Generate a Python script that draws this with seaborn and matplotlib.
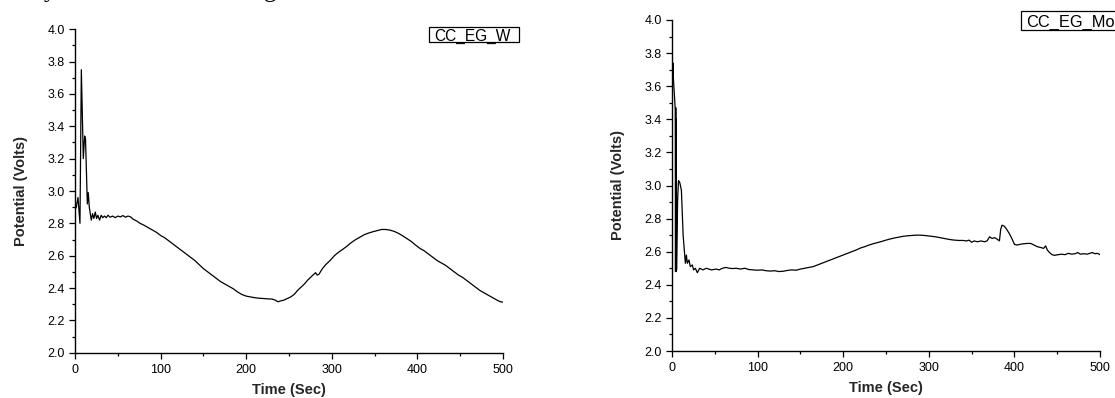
import matplotlib
matplotlib.use("Agg")
import matplotlib.pyplot as plt
from matplotlib.ticker import MultipleLocator
from matplotlib.patches import Rectangle
import seaborn as sns
import pandas as pd

# --- CC_EG_W : potential vs time ---
w_time = [0.5, 1.5, 3.5, 5.8, 7.4, 9.7, 11.3, 12.3, 14.4, 15.5, 16.7, 19.0, 20.5,
          22.0, 23.7, 25.2, 26.8, 28.7, 30.6, 32.5, 34.5, 36.5, 38.5, 41, 44, 47,
          50, 53, 56, 59, 62, 65, 68, 72, 76, 80, 85, 90, 95, 100, 105, 110, 115,
          120, 125, 130, 135, 140, 145, 150, 155, 160, 165, 170, 175, 180, 185,
          190, 195, 200, 205, 210, 215, 220, 225, 230, 234, 237, 240, 244, 248,
          252, 256, 260, 264, 268, 272, 276, 279, 281, 283, 285, 289, 293, 298,
          303, 308, 313, 318, 323, 328, 333, 338, 343, 348, 353, 358, 363, 368,
          373, 378, 383, 388, 393, 398, 403, 408, 413, 418, 423, 428, 433, 438,
          443, 448, 453, 458, 463, 468, 473, 478, 483, 488, 493, 497, 500]
w_volts = [2.89, 2.90, 2.96, 2.80, 3.75, 3.20, 3.34, 3.32, 2.92, 2.99, 2.90, 2.82,
           2.86, 2.83, 2.87, 2.83, 2.85, 2.82, 2.85, 2.835, 2.845, 2.835, 2.85,
           2.838, 2.845, 2.835, 2.845, 2.84, 2.848, 2.838, 2.845, 2.84, 2.825,
           2.815, 2.80, 2.79, 2.775, 2.76, 2.745, 2.725, 2.71, 2.69, 2.67, 2.65,
           2.63, 2.61, 2.59, 2.57, 2.545, 2.52, 2.50, 2.48, 2.46, 2.44, 2.425,
           2.41, 2.395, 2.375, 2.36, 2.35, 2.345, 2.34, 2.337, 2.335, 2.333,
           2.332, 2.325, 2.315, 2.32, 2.325, 2.335, 2.345, 2.36, 2.385, 2.405,
           2.425, 2.45, 2.47, 2.485, 2.495, 2.48, 2.485, 2.52, 2.545, 2.57, 2.60,
           2.622, 2.64, 2.66, 2.682, 2.70, 2.715, 2.73, 2.74, 2.748, 2.755,
           2.762, 2.762, 2.758, 2.75, 2.738, 2.722, 2.705, 2.687, 2.665, 2.645,
           2.63, 2.61, 2.59, 2.57, 2.555, 2.54, 2.52, 2.50, 2.48, 2.465, 2.445,
           2.425, 2.405, 2.385, 2.37, 2.355, 2.34, 2.325, 2.315, 2.313]

# --- CC_EG_Mo : potential vs time ---
mo_time = [0.0, 0.4, 0.8, 1.2, 1.6, 3.8, 4.1, 4.4, 4.7, 5.0, 5.3, 6.6, 7.6, 9.0,
           11.0, 13.0, 15.6, 16.8, 17.9, 19.8, 21.4, 23.7, 25.3, 27.3, 29.6,
           32.3, 36.2, 40, 46, 51.7, 55, 59, 63, 67, 71, 75, 80, 85, 90, 95, 100,
           105, 110, 115, 120, 125, 130, 135, 140, 145, 150, 155, 160, 165, 170,
           175, 180, 185, 190, 195, 200, 205, 210, 215, 220, 225, 230, 235, 240,
           245, 250, 255, 260, 265, 270, 275, 280, 285, 290, 295, 300, 305, 310,
           315, 320, 325, 330, 335, 340, 344, 347, 350, 353, 357, 361, 365, 368,
           371, 374, 377, 380, 382.5, 384, 385.5, 388, 391, 394, 397, 400, 403,
           407, 411, 415, 419, 423, 427, 431, 434, 436.5, 438.5, 441, 444, 447,
           451, 455, 459, 463, 467, 471, 474, 477, 481, 485, 488, 491, 494, 497,
           500]
mo_volts = [3.67, 3.75, 3.66, 3.74, 3.65, 3.46, 2.48, 3.47, 2.48, 3.40, 2.49,
            2.92, 3.03, 3.02, 2.97, 2.70, 2.53, 2.58, 2.53, 2.55, 2.51, 2.52,
            2.49, 2.50, 2.473, 2.50, 2.49, 2.50, 2.49, 2.495, 2.49, 2.50, 2.505,
            2.50, 2.498, 2.50, 2.495, 2.50, 2.492, 2.49, 2.488, 2.49, 2.485,
            2.483, 2.485, 2.48, 2.482, 2.487, 2.49, 2.488, 2.495, 2.50, 2.505,
            2.51, 2.52, 2.53, 2.54, 2.55, 2.56, 2.57, 2.58, 2.59, 2.60, 2.61,
            2.622, 2.63, 2.64, 2.648, 2.655, 2.662, 2.67, 2.677, 2.683, 2.688,
            2.693, 2.696, 2.698, 2.70, 2.70, 2.698, 2.695, 2.692, 2.688, 2.683,
            2.678, 2.673, 2.67, 2.668, 2.668, 2.665, 2.67, 2.657, 2.665, 2.66,
            2.665, 2.66, 2.665, 2.69, 2.68, 2.685, 2.675, 2.665, 2.735, 2.76,
            2.755, 2.735, 2.71, 2.68, 2.645, 2.64, 2.645, 2.648, 2.65, 2.65,
            2.64, 2.63, 2.625, 2.62, 2.635, 2.61, 2.595, 2.582, 2.578, 2.582,
            2.585, 2.582, 2.59, 2.585, 2.588, 2.595, 2.585, 2.588, 2.585, 2.59,
            2.595, 2.588, 2.59, 2.582]

x_ticks = [0, 100, 200, 300, 400, 500]
y_ticks = [2.0, 2.2, 2.4, 2.6, 2.8, 3.0, 3.2, 3.4, 3.6, 3.8, 4.0]
x_label = "Time (Sec)"
y_label = "Potential (Volts)"
series_names = ["CC_EG_W", "CC_EG_Mo"]

sns.set_style("ticks")
plt.rcParams["font.family"] = ["Liberation Sans", "DejaVu Sans"]

W, H = 1115, 398
fig = plt.figure(figsize=(W / 100, H / 100), dpi=100)

def px_axes(left, right, top, bottom):
    return fig.add_axes([left / W, 1 - bottom / H, (right - left) / W, (bottom - top) / H])

def px_box(left, right, top, bottom):
    # framed name tag, given in pixel coordinates of the figure
    fig.patches.append(Rectangle((left / W, 1 - bottom / H), (right - left) / W,
                                 (bottom - top) / H, transform=fig.transFigure,
                                 facecolor="white", edgecolor="black",
                                 linewidth=0.9, zorder=5))

ax_w = px_axes(75, 503, 29.3, 352.7)
ax_mo = px_axes(672, 1100, 20, 351)

panels = [
    (ax_w, w_time, w_volts, series_names[0], (429, 519, 26.7, 42.3), 11.2),
    (ax_mo, mo_time, mo_volts, series_names[1], (1021, 1130, 11, 30), 11.8),
]

for ax, t, v, name, (bl, br, bt, bb), fs in panels:
    df = pd.DataFrame({"time": t, "volts": v})
    sns.lineplot(data=df, x="time", y="volts", ax=ax, color="black",
                 linewidth=0.9, estimator=None, sort=False)
    ax.set_xlim(0, 500)
    ax.set_ylim(2.0, 4.0)
    ax.set_xticks(x_ticks)
    ax.set_xticklabels([str(x) for x in x_ticks])
    ax.set_yticks(y_ticks)
    ax.set_yticklabels([f"{y:.1f}" for y in y_ticks])
    ax.xaxis.set_minor_locator(MultipleLocator(50))
    ax.yaxis.set_minor_locator(MultipleLocator(0.1))
    ax.tick_params(which="major", direction="out", length=4, width=0.9,
                   colors="black", labelsize=9, pad=3.5)
    ax.tick_params(which="minor", direction="out", length=2.2, width=0.9,
                   colors="black")
    ax.tick_params(axis="x", which="major", pad=4)
    for side in ("top", "right"):
        ax.spines[side].set_visible(False)
    for side in ("left", "bottom"):
        ax.spines[side].set_linewidth(1.0)
        ax.spines[side].set_color("black")
    ax.set_xlabel(x_label, fontsize=10.5, fontweight="bold", labelpad=5)
    ax.set_ylabel(y_label, fontsize=10.5, fontweight="bold", labelpad=14)
    ax.patch.set_alpha(0)
    # series name in a framed box
    px_box(bl, br, bt, bb)
    fig.text((bl + 5.5) / W, 1 - (bt + bb) / 2 / H, name, fontsize=fs,
             color="black", ha="left", va="center_baseline", zorder=6)

# fragments of the surrounding document text, cut by the top edge
fig.text(44 / W, 1 + 3.5 / H, "y", fontsize=18, family="Liberation Serif",
         va="baseline", ha="left", color="black")
fig.text(264 / W, 1 + 3.5 / H, "g", fontsize=18, family="Liberation Serif",
         va="baseline", ha="left", color="black")

fig.savefig("out.png", dpi=100, facecolor="white")
